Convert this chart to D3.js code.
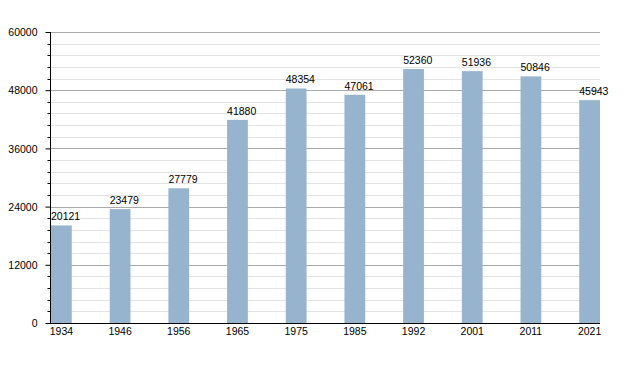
<!DOCTYPE html>
<html>
  <head>
    <meta charset="utf-8">
    <style>
      body { margin: 0; background: #fff; }
      text { font-family: "Liberation Sans", Arial, sans-serif; font-size: 10.5px; fill: #000; }
    </style>
    <script src="https://d3js.org/d3.v7.min.js"></script>
    <title>population</title>
  </head>
  <body>
    <div id="my_dataviz"></div>
    <script>
    // data
    var years = ["1934","1946","1956","1965","1975","1985","1992","2001","2011","2021"]
    var population = [20121,23479,27779,41880,48354,47061,52360,51936,50846,45943]
    var yTicks = [0,12000,24000,36000,48000,60000]

    var width = 630, height = 373
    var margin = {top: 32, right: 30, bottom: 50, left: 50}

    var svg = d3.select("#my_dataviz")
      .append("svg")
        .attr("width", width)
        .attr("height", height)

    var x = d3.scaleBand()
      .domain(years)
      .range([margin.left + 1, width - margin.right])
      .paddingInner(0.646)
      .paddingOuter(0)

    var y = d3.scaleLinear()
      .domain([0, 60000])
      .range([height - margin.bottom, margin.top])

    // minor grid every 2400, major every 12000
    var minor = d3.range(0, 60001, 2400).filter(function(d) { return d % 12000 != 0 })
    svg.selectAll("minorGrid")
      .data(minor).enter()
      .append("line")
        .attr("x1", margin.left).attr("x2", width - margin.right)
        .attr("y1", function(d) { return Math.round(y(d)) + 0.5 })
        .attr("y2", function(d) { return Math.round(y(d)) + 0.5 })
        .style("stroke", "#e3e3e3")

    svg.selectAll("majorGrid")
      .data(yTicks.slice(1)).enter()
      .append("line")
        .attr("x1", margin.left).attr("x2", width - margin.right)
        .attr("y1", function(d) { return Math.round(y(d)) + 0.5 })
        .attr("y2", function(d) { return Math.round(y(d)) + 0.5 })
        .style("stroke", "#aaaaaa")

    // bars
    svg.selectAll("bars")
      .data(population).enter()
      .append("rect")
        .attr("x", function(d, i) { return x(years[i]) })
        .attr("width", x.bandwidth())
        .attr("y", function(d) { return y(d) })
        .attr("height", function(d) { return y(0) - y(d) })
        .style("fill", "#97b4cf")

    // value labels, left aligned on the bar
    svg.selectAll("labels")
      .data(population).enter()
      .append("text")
        .attr("x", function(d, i) { return x(years[i]) })
        .attr("y", function(d) { return y(d) - 5 })
        .style("text-anchor", "start")
        .text(function(d) { return d })

    // left axis with minor ticks
    var yAxis = svg.append("g")
      .attr("transform", "translate(" + (margin.left + 0.5) + ",0)")
    yAxis.call(d3.axisLeft(y).tickValues(yTicks).tickSize(5).tickSizeOuter(0).tickFormat(d3.format("d")))
    yAxis.selectAll("g.minor")
      .data(minor).enter()
      .append("line")
        .attr("x1", -3).attr("x2", 0)
        .attr("y1", function(d) { return Math.round(y(d)) + 0.5 })
        .attr("y2", function(d) { return Math.round(y(d)) + 0.5 })
        .style("stroke", "#000")
    yAxis.selectAll("text").attr("x", -13).attr("dy", "0.35em")
    yAxis.select(".domain").attr("d", "M0," + margin.top + "V" + (height - margin.bottom + 1))
    yAxis.selectAll(".tick line").style("stroke", "#000")

    // bottom axis
    var xAxis = svg.append("g")
      .attr("transform", "translate(0," + (Math.round(y(0)) + 0.5) + ")")
    xAxis.call(d3.axisBottom(x).tickSize(0).tickSizeOuter(0).tickPadding(4))
    xAxis.selectAll("text").attr("dy", "0.71em")
    xAxis.select(".domain").attr("d", "M" + margin.left + ",0H" + (width - margin.right)).style("stroke", "#000")
    svg.selectAll(".tick text").style("font-size", "10.5px").style("font-family", "'Liberation Sans', Arial, sans-serif")
    </script>
  </body>
</html>
